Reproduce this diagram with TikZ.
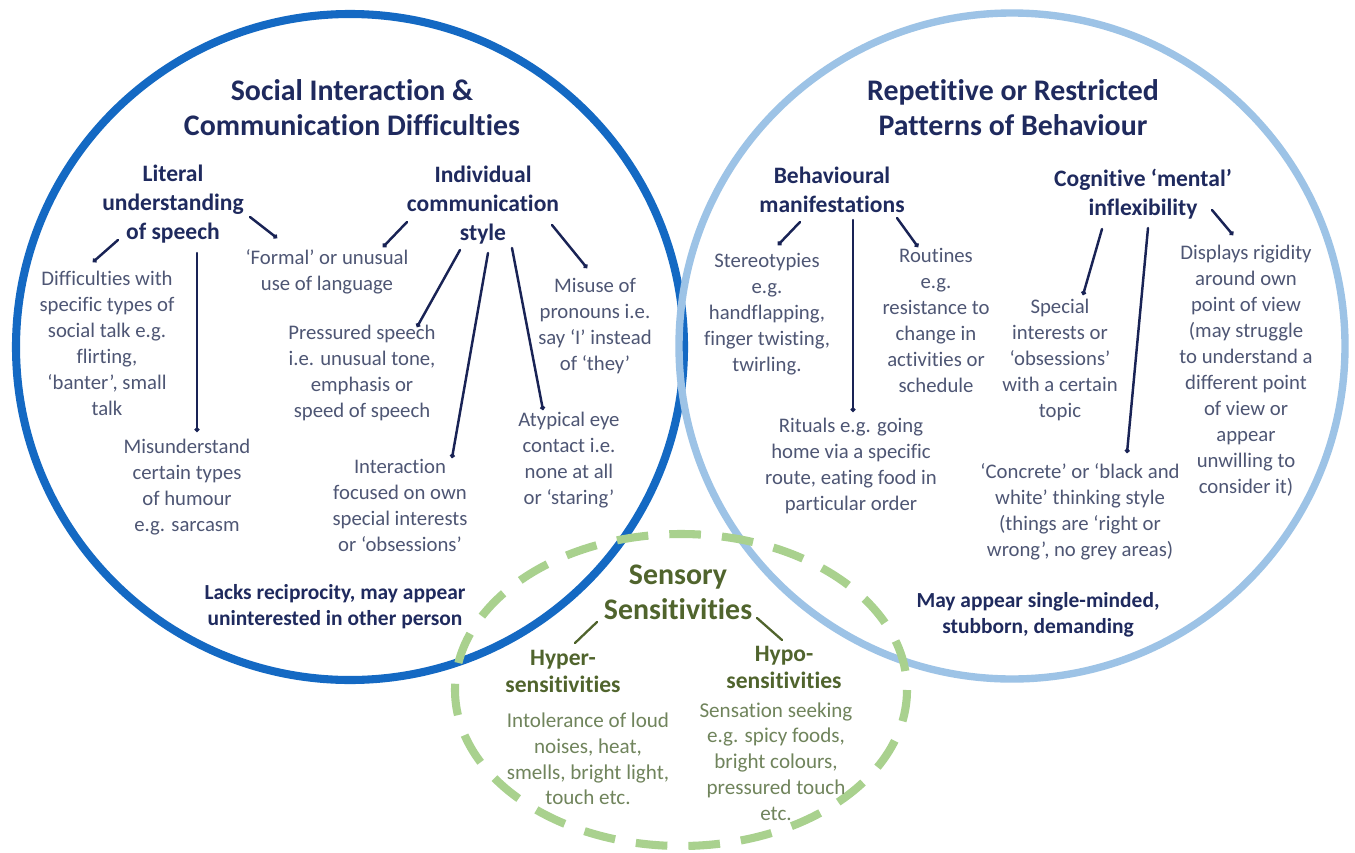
\documentclass[tikz,border=0pt]{standalone}
\usepackage{fontspec}
\setmainfont{Carlito}[Ligatures=NoCommon]
\usetikzlibrary{arrows.meta}
\definecolor{navy}{RGB}{31,42,94}
\definecolor{bodyc}{RGB}{78,86,116}
\definecolor{linec}{RGB}{25,35,85}
\definecolor{blueA}{RGB}{20,105,195}
\definecolor{blueB}{RGB}{157,195,230}
\definecolor{greenD}{RGB}{169,209,142}
\definecolor{greenT}{RGB}{80,100,45}
\definecolor{greenB}{RGB}{112,132,92}
\tikzset{
  ttl/.style={font=\fontsize{17}{19.8}\selectfont\bfseries, text=navy, align=center, inner sep=0pt},
  sub/.style={font=\fontsize{13.4}{16.4}\selectfont\bfseries, text=navy, align=center, inner sep=0pt},
  bod/.style={font=\fontsize{11.8}{14.8}\selectfont, text=bodyc, align=center, inner sep=0pt},
  note/.style={font=\fontsize{12.2}{14.7}\selectfont\bfseries, text=navy, align=center, inner sep=0pt},
  gttl/.style={font=\fontsize{17}{19.8}\selectfont\bfseries, text=greenT, align=center, inner sep=0pt},
  gsub/.style={font=\fontsize{13.4}{15.3}\selectfont\bfseries, text=greenT, align=center, inner sep=0pt},
  gbod/.style={font=\fontsize{12}{14.7}\selectfont, text=greenB, align=center, inner sep=0pt},
  conn/.style={draw=linec, line width=1.4pt, line cap=round, -{Circle[length=2.6pt]}},
  gconn/.style={draw=greenT, line width=1.3pt, line cap=round},
}
\begin{document}
\begin{tikzpicture}[x=0.02cm,y=-0.02cm]
\useasboundingbox (0,0) rectangle (1355,852);
\fill[white] (0,0) rectangle (1355,852);
% circles
\draw[blueA, line width=4.6pt] (350,347) ellipse [x radius=334, y radius=333];
\draw[blueB, line width=4.2pt] (1012,346) ellipse [x radius=333, y radius=333];
\draw[greenD, line width=4.6pt, dash pattern=on 18pt off 12pt] (681,690) ellipse [x radius=226, y radius=156];

% left circle
\node[ttl] (t1) at (352,107.5) {Social Interaction \&\\Communication Difficulties};
\node[sub] (lit) at (173,204) {Literal\\understanding\\of speech};
\node[sub] (ind) at (483,205) {Individual\\communication\\style};
\node[bod] (formal) at (327,271.5) {‘Formal’ or unusual\\use of language};
\node[bod] (diff) at (107,343) {Difficulties with\\specific types of\\social talk e.g.\\flirting,\\‘banter’, small\\talk};
\node[bod] (press) at (362,373) {Pressured speech\\i.e. unusual tone,\\emphasis or\\speed of speech};
\node[bod] (misuse) at (595,326) {Misuse of\\pronouns i.e.\\say ‘I’ instead\\of ‘they’};
\node[bod] (misund) at (187,487.5) {Misunderstand\\certain types\\of humour\\e.g. sarcasm};
\node[bod] (inter) at (400,505.5) {Interaction\\focused on own\\special interests\\or ‘obsessions’};
\node[bod] (atyp) at (569,460) {Atypical eye\\contact i.e.\\none at all\\or ‘staring’};
\node[note] (lacks) at (335,607) {Lacks reciprocity, may appear\\uninterested in other person};

% right circle
\node[ttl] (t2) at (1013,107.5) {Repetitive or Restricted\\Patterns of Behaviour};
\node[sub] (beh) at (832,190) {Behavioural\\manifestations};
\node[sub] (cog) at (1143,194.5) {Cognitive ‘mental’\\inflexibility};
\node[bod] (stereo) at (767,314) {Stereotypies\\e.g.\\handflapping,\\finger twisting,\\twirling.};
\node[bod] (rout) at (936,320.5) {Routines\\e.g.\\resistance to\\change in\\activities or\\schedule};
\node[bod] (spec) at (1060,360) {Special\\interests or\\‘obsessions’\\with a certain\\topic};
\node[bod] (disp) at (1246,370.5) {Displays rigidity\\around own\\point of view\\(may struggle\\to understand a\\different point\\of view or\\appear\\unwilling to\\consider it)};
\node[bod] (rit) at (851,466) {Rituals e.g. going\\home via a specific\\route, eating food in\\particular order};
\node[bod] (conc) at (1080,512) {‘Concrete’ or ‘black and\\white’ thinking style\\(things are ‘right or\\wrong’, no grey areas)};
\node[note] (may) at (1038,614.5) {May appear single-minded,\\stubborn, demanding};

% sensory
\node[gttl] (sens) at (678,592.5) {Sensory\\Sensitivities};
\node[gsub] (hyper) at (563,671.5) {Hyper-\\sensitivities};
\node[gsub] (hypo) at (784,667.5) {Hypo-\\sensitivities};
\node[gbod] (intol) at (588,759) {Intolerance of loud\\noises, heat,\\smells, bright light,\\touch etc.};
\node[gbod] (seek) at (776,761.5) {Sensation seeking\\e.g. spicy foods,\\bright colours,\\pressured touch\\etc.};

% connector end points
\coordinate (lit-diff-a) at (118,240);  \coordinate (lit-diff-b) at (93,262);
\coordinate (lit-formal-a) at (250,217); \coordinate (lit-formal-b) at (277,238);
\coordinate (lit-misund-a) at (197,253); \coordinate (lit-misund-b) at (197,432);
\coordinate (ind-formal-a) at (407,222); \coordinate (ind-formal-b) at (383,247);
\coordinate (ind-press-a) at (460,250);  \coordinate (ind-press-b) at (417,327);
\coordinate (ind-inter-a) at (488,253);  \coordinate (ind-inter-b) at (452,458);
\coordinate (ind-atyp-a) at (512,248);   \coordinate (ind-atyp-b) at (543,410);
\coordinate (ind-misuse-a) at (552,225); \coordinate (ind-misuse-b) at (587,268);
\coordinate (beh-stereo-a) at (800,222); \coordinate (beh-stereo-b) at (778,245);
\coordinate (beh-rit-a) at (853,220);    \coordinate (beh-rit-b) at (853,412);
\coordinate (beh-rout-a) at (897,218);   \coordinate (beh-rout-b) at (918,247);
\coordinate (cog-spec-a) at (1102,229);  \coordinate (cog-spec-b) at (1083,295);
\coordinate (cog-conc-a) at (1148,228);  \coordinate (cog-conc-b) at (1127,453);
\coordinate (cog-disp-a) at (1212,210);  \coordinate (cog-disp-b) at (1233,235);
\coordinate (sens-hyper-a) at (597,622); \coordinate (sens-hyper-b) at (575,643);
\coordinate (sens-hypo-a) at (757,618);  \coordinate (sens-hypo-b) at (782,640);

\draw[conn] (lit-diff-a) -- (lit-diff-b);
\draw[conn] (lit-formal-a) -- (lit-formal-b);
\draw[conn] (lit-misund-a) -- (lit-misund-b);
\draw[conn] (ind-formal-a) -- (ind-formal-b);
\draw[conn] (ind-press-a) -- (ind-press-b);
\draw[conn] (ind-inter-a) -- (ind-inter-b);
\draw[conn] (ind-atyp-a) -- (ind-atyp-b);
\draw[conn] (ind-misuse-a) -- (ind-misuse-b);
\draw[conn] (beh-stereo-a) -- (beh-stereo-b);
\draw[conn] (beh-rit-a) -- (beh-rit-b);
\draw[conn] (beh-rout-a) -- (beh-rout-b);
\draw[conn] (cog-spec-a) -- (cog-spec-b);
\draw[conn] (cog-conc-a) -- (cog-conc-b);
\draw[conn] (cog-disp-a) -- (cog-disp-b);
\draw[gconn] (sens-hyper-a) -- (sens-hyper-b);
\draw[gconn] (sens-hypo-a) -- (sens-hypo-b);
\end{tikzpicture}
\end{document}
